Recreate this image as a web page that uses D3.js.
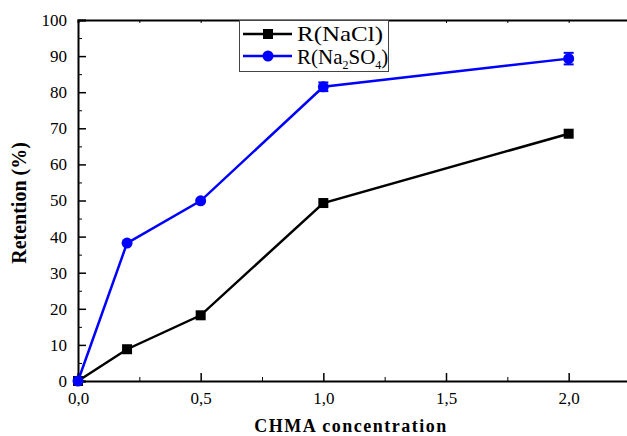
<!DOCTYPE html>
<html>
<head>
<meta charset="utf-8">
<script src="https://cdn.jsdelivr.net/npm/d3@7"></script>
<style>
  body { margin: 0; background: #fff; }
  svg text { font-family: "Liberation Serif", "Times New Roman", serif; }
  .tick text { font-size: 17px; }
</style>
</head>
<body>
<div id="chart"></div>
<script>
// Data
var conc = [0, 0.2, 0.5, 1.0, 2.0];
var naclValues = [0, 8.8, 18.2, 49.3, 68.5];
var na2so4Values = [0, 38.2, 49.9, 81.5, 89.3];
var na2so4Errors = [0, 0, 0, 1.2, 1.6];
var xTicks = [0, 0.5, 1.0, 1.5, 2.0];
var yTicks = [0, 10, 20, 30, 40, 50, 60, 70, 80, 90, 100];

var width = 627, height = 436;
var serif = '"Liberation Serif", "Times New Roman", serif';

var svg = d3.select("#chart")
    .append("svg")
    .attr("width", width)
    .attr("height", height);

var x = d3.scaleLinear().domain([0, 2.25]).range([78, 630]);
var y = d3.scaleLinear().domain([0, 100]).range([381, 20]);

var fmt = function(d) { return d3.format(".1f")(d).replace(".", ","); };

// Bottom axis
var xAxis = svg.append("g")
    .attr("transform", "translate(0," + y(0) + ")")
    .call(d3.axisBottom(x).tickValues(xTicks).tickSize(-8).tickPadding(11).tickFormat(fmt))
    .attr("font-family", serif)
    .attr("font-size", 17);
xAxis.select(".domain").attr("stroke-width", 2);
xAxis.selectAll(".tick line").attr("stroke-width", 1.5);
xAxis.selectAll(".tick text").attr("dy", "0.68em");

// minor ticks x
svg.append("g")
    .attr("transform", "translate(0," + y(0) + ")")
    .call(d3.axisBottom(x).tickValues([0.25, 0.75, 1.25, 1.75, 2.25]).tickSize(-4).tickFormat(""))
    .select(".domain").remove();

// Top axis
var topAxis = svg.append("g")
    .attr("transform", "translate(0," + y(100) + ")")
    .call(d3.axisTop(x).tickValues([0.25, 0.5, 0.75, 1, 1.25, 1.5, 1.75, 2, 2.25]).tickSize(-3).tickFormat(""));
topAxis.select(".domain").attr("stroke-width", 2);

// Left axis
var yAxis = svg.append("g")
    .attr("transform", "translate(" + x(0) + ",0)")
    .call(d3.axisLeft(y).tickValues(yTicks).tickSize(-8).tickPadding(11))
    .attr("font-family", serif)
    .attr("font-size", 17);
yAxis.select(".domain").attr("stroke-width", 2);
yAxis.selectAll(".tick line").attr("stroke-width", 1.5);

svg.append("g")
    .attr("transform", "translate(" + x(0) + ",0)")
    .call(d3.axisLeft(y).tickValues(d3.range(5, 100, 10)).tickSize(-4).tickFormat(""))
    .select(".domain").remove();

// Axis titles
svg.append("text")
    .attr("x", 351)
    .attr("y", 432)
    .attr("text-anchor", "middle")
    .style("font-size", "18px")
    .style("font-weight", "bold")
    .style("letter-spacing", "1.5px")
    .text("CHMA concentration");

svg.append("text")
    .attr("transform", "rotate(-90)")
    .attr("x", -203)
    .attr("y", 26)
    .attr("text-anchor", "middle")
    .style("font-size", "20px")
    .style("font-weight", "bold")
    .text("Retention (%)");

var line = d3.line()
    .x(function(d) { return x(d[0]); })
    .y(function(d) { return y(d[1]); });

var naclData = conc.map(function(c, i) { return [c, naclValues[i]]; });
var so4Data = conc.map(function(c, i) { return [c, na2so4Values[i], na2so4Errors[i]]; });

// NaCl series
svg.append("path")
    .datum(naclData)
    .attr("fill", "none")
    .attr("stroke", "black")
    .attr("stroke-width", 2.5)
    .attr("d", line);

svg.selectAll(".sq")
    .data(naclData)
    .enter().append("rect")
    .attr("x", function(d) { return x(d[0]) - 5; })
    .attr("y", function(d) { return y(d[1]) - 5; })
    .attr("width", 10)
    .attr("height", 10)
    .attr("fill", "black");

// Na2SO4 series
svg.append("path")
    .datum(so4Data)
    .attr("fill", "none")
    .attr("stroke", "#0000ff")
    .attr("stroke-width", 2.5)
    .attr("d", line);

var err = svg.selectAll(".err")
    .data(so4Data.filter(function(d) { return d[2] > 0; }))
    .enter().append("g")
    .attr("stroke", "#0000ff")
    .attr("stroke-width", 2);
err.append("line")
    .attr("x1", function(d) { return x(d[0]); })
    .attr("x2", function(d) { return x(d[0]); })
    .attr("y1", function(d) { return y(d[1] - d[2]); })
    .attr("y2", function(d) { return y(d[1] + d[2]); });
err.append("line")
    .attr("x1", function(d) { return x(d[0]) - 5; })
    .attr("x2", function(d) { return x(d[0]) + 5; })
    .attr("y1", function(d) { return y(d[1] + d[2]); })
    .attr("y2", function(d) { return y(d[1] + d[2]); });
err.append("line")
    .attr("x1", function(d) { return x(d[0]) - 5; })
    .attr("x2", function(d) { return x(d[0]) + 5; })
    .attr("y1", function(d) { return y(d[1] - d[2]); })
    .attr("y2", function(d) { return y(d[1] - d[2]); });

svg.selectAll(".dot")
    .data(so4Data)
    .enter().append("circle")
    .attr("cx", function(d) { return x(d[0]); })
    .attr("cy", function(d) { return y(d[1]); })
    .attr("r", 5.5)
    .attr("fill", "#0000ff");

// Legend
var legend = svg.append("g");
legend.append("rect")
    .attr("x", 239.5)
    .attr("y", 20.5)
    .attr("width", 149)
    .attr("height", 51)
    .attr("fill", "white")
    .attr("stroke", "#444")
    .attr("stroke-width", 1);

legend.append("line")
    .attr("x1", 243).attr("x2", 292).attr("y1", 34).attr("y2", 34)
    .attr("stroke", "black").attr("stroke-width", 2.5);
legend.append("rect")
    .attr("x", 263).attr("y", 29).attr("width", 10).attr("height", 10)
    .attr("fill", "black");
legend.append("text")
    .attr("x", 297).attr("y", 41)
    .attr("textLength", 86)
    .attr("lengthAdjust", "spacingAndGlyphs")
    .style("font-size", "22px")
    .text("R(NaCl)");

legend.append("line")
    .attr("x1", 243).attr("x2", 292).attr("y1", 56).attr("y2", 56)
    .attr("stroke", "#0000ff").attr("stroke-width", 2.5);
legend.append("circle")
    .attr("cx", 268).attr("cy", 56).attr("r", 5.5)
    .attr("fill", "#0000ff");
var t2 = legend.append("text")
    .attr("x", 297).attr("y", 64)
    .style("font-size", "21px");
t2.append("tspan").text("R(Na");
t2.append("tspan").attr("dy", 5).style("font-size", "12px").text("2");
t2.append("tspan").attr("dy", -5).text("SO");
t2.append("tspan").attr("dy", 5).style("font-size", "12px").text("4");
t2.append("tspan").attr("dy", -5).text(")");
</script>
</body>
</html>
